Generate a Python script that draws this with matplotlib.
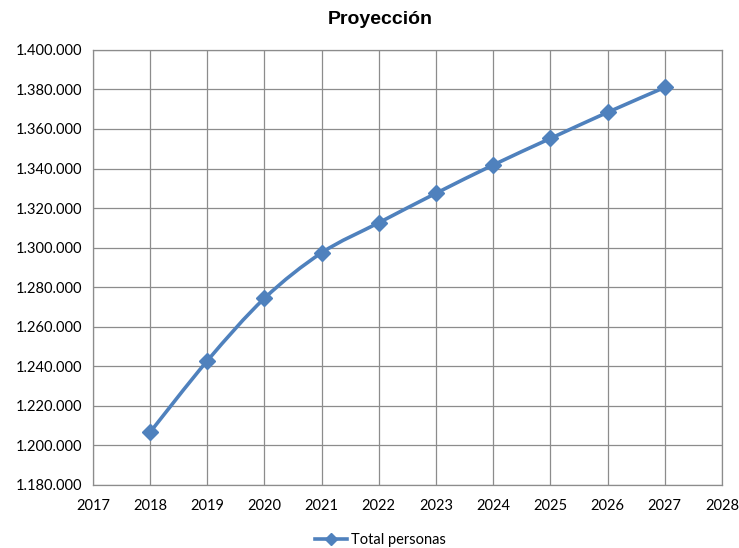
"""Proyección: total de personas 2018-2027, línea suavizada estilo Excel."""
import matplotlib
matplotlib.use("Agg")
import matplotlib.pyplot as plt
from matplotlib.path import Path
from matplotlib.patches import PathPatch
from matplotlib.lines import Line2D
from matplotlib.ticker import FuncFormatter, MultipleLocator

years = [2018, 2019, 2020, 2021, 2022, 2023, 2024, 2025, 2026, 2027]
total_personas = [1206700, 1242800, 1274400, 1297400, 1312600,
                  1327500, 1341800, 1355200, 1368400, 1381000]

BLUE = "#4F81BD"
GRID = "#8C8C8C"

plt.rcParams["font.family"] = ["Lato", "DejaVu Sans"]


def smooth_path(xs, ys, tension=1 / 6):
    """Bezier path through the points, like Excel's 'smoothed line'."""
    verts = [(xs[0], ys[0])]
    codes = [Path.MOVETO]
    n = len(xs)
    for i in range(n - 1):
        x0, y0 = (xs[i - 1], ys[i - 1]) if i > 0 else (xs[i], ys[i])
        x1, y1 = xs[i], ys[i]
        x2, y2 = xs[i + 1], ys[i + 1]
        x3, y3 = (xs[i + 2], ys[i + 2]) if i + 2 < n else (x2, y2)
        c1 = (x1 + (x2 - x0) * tension, y1 + (y2 - y0) * tension)
        c2 = (x2 - (x3 - x1) * tension, y2 - (y3 - y1) * tension)
        verts += [c1, c2, (x2, y2)]
        codes += [Path.CURVE4] * 3
    return Path(verts, codes)


fig = plt.figure(figsize=(7.39, 5.48), dpi=100)
ax = fig.add_axes([0.1258, 0.115, 0.851, 0.794])

ax.add_patch(PathPatch(smooth_path(years, total_personas), fill=False,
                       edgecolor=BLUE, linewidth=2.6, zorder=3))
ax.plot(years, total_personas, linestyle="none", marker="D", markersize=8,
        color=BLUE, zorder=4)

ax.set_xlim(2017, 2028)
ax.set_ylim(1180000, 1400000)
ax.xaxis.set_major_locator(MultipleLocator(1))
ax.yaxis.set_major_locator(MultipleLocator(20000))
ax.yaxis.set_major_formatter(
    FuncFormatter(lambda v, _: f"{int(round(v)):,}".replace(",", ".")))

ax.grid(True, color=GRID, linewidth=0.9)
ax.set_axisbelow(True)
for s in ax.spines.values():
    s.set_color(GRID)
    s.set_linewidth(0.9)
ax.tick_params(length=0, labelsize=10.5, colors="black", pad=8)
ax.tick_params(axis="x", pad=10)

fig.text(0.515, 0.965, "Proyección", ha="center", va="center",
         fontsize=14, fontweight="bold", family=["Liberation Sans", "DejaVu Sans"])

handle = Line2D([], [], color=BLUE, linewidth=2.6, marker="D", markersize=6)
fig.legend([handle], ["Total personas"], loc="center", bbox_to_anchor=(0.515, 0.015),
           frameon=False, fontsize=10.5, handlelength=2.2, handletextpad=0.3)

fig.savefig("out.png", dpi=100)
